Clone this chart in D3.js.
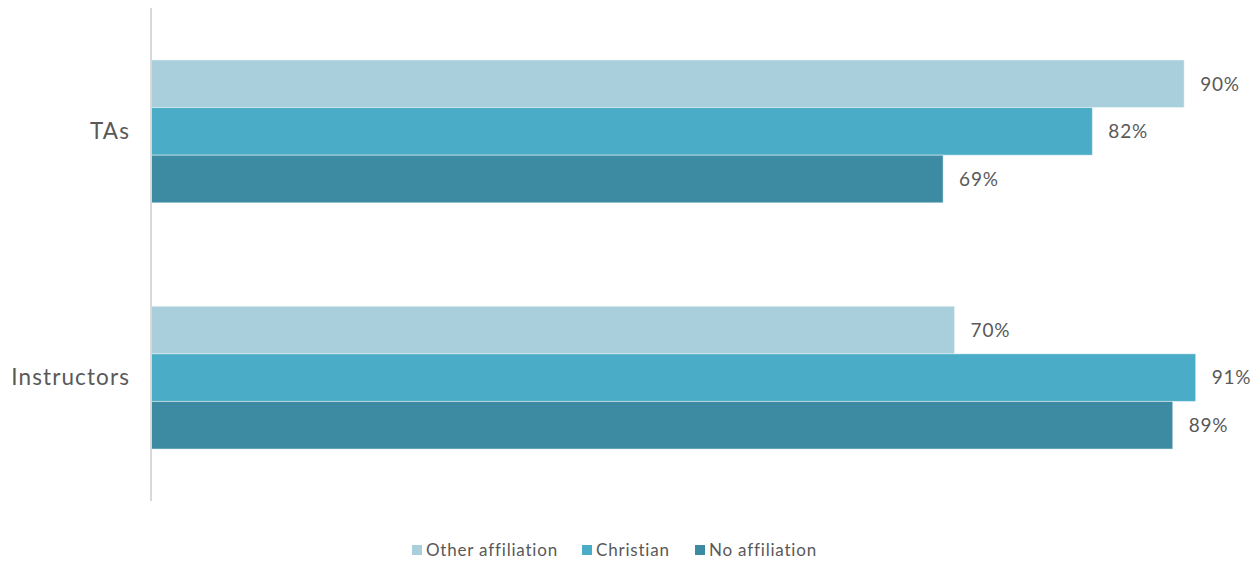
<!DOCTYPE html>
<html>
<head>
<meta charset="utf-8">
<script src="https://cdn.jsdelivr.net/npm/d3@7"></script>
<style>
  html, body { margin: 0; padding: 0; background: #ffffff; }
  svg { display: block; font-family: Lato, "Open Sans", sans-serif; }
</style>
</head>
<body>
<svg id="chart" width="1260" height="563"></svg>
<script>
// Groups shown on the vertical axis, top to bottom
const categories = ["TAs", "Instructors"];
// Series, in legend order (top bar of each group first)
const seriesNames = ["Other affiliation", "Christian", "No affiliation"];
// Percent values per series, aligned with categories
const otherAffiliation = [90, 70];
const christian = [82, 91];
const noAffiliation = [69, 89];
const seriesColors = ["#a9cfdd", "#4aacc6", "#3d8ba3"];

const seriesValues = [otherAffiliation, christian, noAffiliation];
const rows = categories.map((c, i) => ({
  category: c,
  values: seriesNames.map((s, j) => ({ series: s, value: seriesValues[j][i], color: seriesColors[j] }))
}));

const svg = d3.select("#chart");
const axisX = 151;
const plotTop = 8, plotBottom = 501;

const x = d3.scaleLinear().domain([0, 100]).range([axisX, axisX + 1148]);
const y = d3.scaleBand().domain(categories).range([plotTop, plotBottom])
  .paddingInner(0.42).paddingOuter(0.211);
const ySub = d3.scaleBand().domain(seriesNames).range([0, y.bandwidth()]);

// bars
const groups = svg.append("g").selectAll("g").data(rows).join("g")
  .attr("transform", d => `translate(0,${y(d.category)})`);

groups.selectAll("rect").data(d => d.values).join("rect")
  .attr("x", x(0))
  .attr("y", d => ySub(d.series))
  .attr("width", d => x(d.value) - x(0))
  .attr("height", ySub.bandwidth())
  .attr("fill", d => d.color)
  .attr("stroke", "#ffffff")
  .attr("stroke-opacity", 0.45)
  .attr("stroke-width", 1);

// value labels
groups.selectAll("text").data(d => d.values).join("text")
  .attr("x", d => x(d.value) + 16)
  .attr("y", d => ySub(d.series) + ySub.bandwidth() / 2)
  .attr("dy", "0.36em")
  .attr("fill", "#595959")
  .style("font-size", "19px")
  .style("letter-spacing", "0.8px")
  .text(d => d.value + "%");

// vertical axis line and category labels
const yAxis = d3.axisLeft(y).tickSize(0).tickPadding(21);
const ya = svg.append("g").attr("transform", `translate(${axisX},0)`).call(yAxis);
ya.select(".domain").attr("stroke", "#d9d9d9").attr("stroke-width", 2)
  .attr("d", `M0,${plotTop}V${plotBottom}`);
ya.selectAll(".tick text").attr("fill", "#595959")
  .style("font-size", "22.5px")
  .style("letter-spacing", "1.1px")
  .style("font-family", "Lato, 'Open Sans', sans-serif");

// legend
const legendItems = [
  { name: seriesNames[0], color: seriesColors[0], x: 412 },
  { name: seriesNames[1], color: seriesColors[1], x: 582 },
  { name: seriesNames[2], color: seriesColors[2], x: 695 }
];
const legend = svg.append("g").selectAll("g").data(legendItems).join("g")
  .attr("transform", d => `translate(${d.x},545)`);
legend.append("rect").attr("width", 10).attr("height", 10).attr("fill", d => d.color);
legend.append("text").attr("x", 14).attr("y", 5).attr("dy", "0.36em")
  .attr("fill", "#595959").style("font-size", "17px")
  .style("letter-spacing", "0.8px").text(d => d.name);
</script>
</body>
</html>
